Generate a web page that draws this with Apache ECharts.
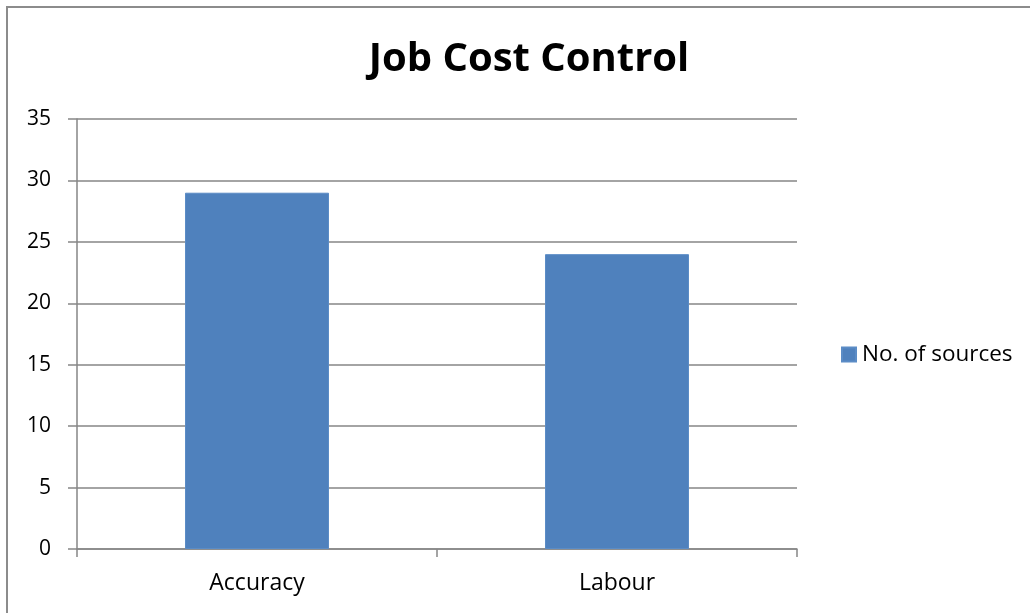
<!DOCTYPE html>
<html>
<head>
<meta charset="utf-8">
<script src="https://cdn.jsdelivr.net/npm/echarts@6/dist/echarts.min.js"></script>
<style>
  html, body { margin: 0; padding: 0; background: #fff; }
  #chart { width: 1030px; height: 613px; }
</style>
</head>
<body>
<div id="chart"></div>
<script>
// Job cost control survey counts
const categories = ['Accuracy', 'Labour'];
const seriesName = 'No. of sources';
const sourceCounts = [29, 24];
const yTicks = { min: 0, max: 35, interval: 5 };

const FONT = '"Open Sans", "Noto Sans", sans-serif';
const GRID_COLOR = '#868686';

const chart = echarts.init(document.getElementById('chart'), null, { renderer: 'canvas' });

chart.setOption({
  backgroundColor: '#ffffff',
  animation: false,
  title: {
    text: 'Job Cost Control',
    left: 524,
    top: 35,
    textAlign: 'center',
    textStyle: { fontFamily: FONT, fontWeight: 'bold', fontSize: 40, color: '#000' }
  },
  legend: {
    data: [seriesName],
    left: 841,
    top: 343,
    padding: 0,
    orient: 'vertical',
    icon: 'rect',
    itemWidth: 14,
    itemHeight: 14,
    itemGap: 6,
    textStyle: { fontFamily: FONT, fontSize: 22.5, color: '#000', padding: [0, 0, 0, 1] }
  },
  grid: { left: 77, right: 233, top: 119, bottom: 64, containLabel: false },
  xAxis: {
    type: 'category',
    data: categories,
    boundaryGap: true,
    axisLine: { lineStyle: { color: GRID_COLOR, width: 1.5 } },
    axisTick: { show: true, length: 8, alignWithLabel: false, lineStyle: { color: GRID_COLOR, width: 1.5 } },
    axisLabel: { fontFamily: FONT, fontSize: 23, color: '#000', margin: 23 }
  },
  yAxis: {
    type: 'value',
    min: yTicks.min,
    max: yTicks.max,
    interval: yTicks.interval,
    axisLine: { show: true, lineStyle: { color: GRID_COLOR, width: 1.5 } },
    axisTick: { show: true, length: 9, lineStyle: { color: GRID_COLOR, width: 1.5 } },
    axisLabel: { fontFamily: FONT, fontSize: 21, color: '#000', margin: 26 },
    splitLine: { show: true, lineStyle: { color: GRID_COLOR, width: 1.5 } }
  },
  series: [{
    name: seriesName,
    type: 'bar',
    data: sourceCounts,
    barWidth: '40%',
    itemStyle: { color: '#4F81BD', borderColor: '#5B8CC6', borderWidth: 1 }
  }],
  graphic: [{
    type: 'rect',
    shape: { x: 7, y: 7, width: 1040, height: 620 },
    style: { fill: 'none', stroke: '#8c8c8c', lineWidth: 2 },
    silent: true,
    z: 100
  }]
});
</script>
</body>
</html>
